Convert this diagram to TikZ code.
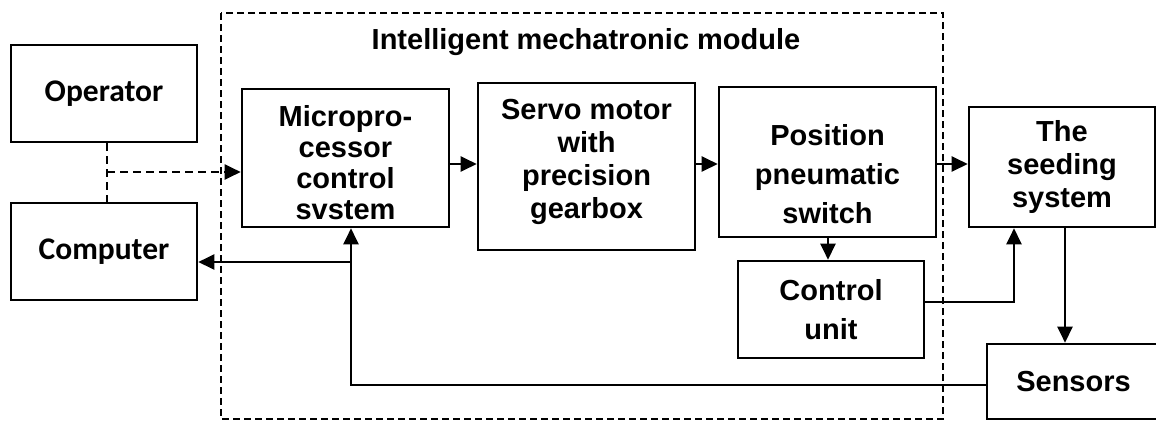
\documentclass[tikz,border=0pt]{standalone}
\usepackage{fontspec}
\setmainfont{Liberation Sans}
\newfontfamily\calib{Carlito}
\usetikzlibrary{arrows.meta,calc}
\begin{document}
\begin{tikzpicture}[x=1pt,y=-1pt,
  box/.style={draw, line width=2.6pt, align=center, inner sep=0pt},
  fa/.style={font=\bfseries\fontsize{29}{31}\selectfont},
  fs/.style={font=\bfseries\fontsize{29}{33}\selectfont},
  fb/.style={font=\bfseries\fontsize{29}{39}\selectfont},
  fd/.style={font=\calib\bfseries\fontsize{31.5}{36}\selectfont},
  tip/.style={-{Triangle[length=16pt,width=15pt]}},
  arr/.style={line width=2.3pt, tip},
  dsh/.style={line width=2pt, dash pattern=on 8pt off 5pt},
  frame/.style={line width=1.5pt, dash pattern=on 7pt off 4pt}]
\useasboundingbox (0,0) rectangle (1156,421);
\draw[frame] (221,13) rectangle (943,419);
\node[font=\bfseries\fontsize{29}{34}\selectfont] (title) at (586,42) {Intelligent mechatronic module};
\node[box, fd, minimum width=186pt, minimum height=97pt] (oper) at (104,93.5) {Operator};
\node[box, fd, minimum width=186pt, minimum height=97pt] (comp) at (104,251.5) {Computer};
\node[box, minimum width=207pt, minimum height=138pt,
  label={[fa, align=center, yshift=-5pt]center:{Micropro-\\cessor\\control\\svstem}}] (micro) at (345.5,158) {};
\node[box, fs, minimum width=217pt, minimum height=167pt,
  label={[fs, align=center, yshift=5pt]center:{Servo motor\\with\\precision\\gearbox}}] (servo) at (586.5,166.5) {};
\node[box, minimum width=217pt, minimum height=150pt,
  label={[fb, align=center, yshift=-12pt]center:{Position\\pneumatic\\switch}}] (pos) at (827.5,162) {};
\node[box, fb, minimum width=186pt, minimum height=97pt] (ctrl) at (831,309.5) {Control\\unit};
\node[box, fs, minimum width=186pt, minimum height=120pt] (seed) at (1062,167) {The\\seeding\\system};
\node[box, fs, minimum width=173pt, minimum height=75pt] (sens) at (1073.5,381.5) {Sensors};
% connectors
\draw[arr] (micro.east |- 0,164) -- (servo.west |- 0,164);
\draw[arr] (servo.east |- 0,164) -- (pos.west |- 0,164);
\draw[arr] (pos.east |- 0,164) -- (seed.west |- 0,164);
\draw[arr] (pos.south -| 828,0) -- (ctrl.north -| 828,0);
\draw[arr] (ctrl.east |- 0,302) -| (seed.south -| 1014,0);
\draw[arr] (seed.south -| 1065,0) -- (sens.north -| 1065,0);
\draw[arr] (sens.west |- 0,385) -| (micro.south -| 351,0);
\coordinate (j) at (351,262);
\draw[arr] (j) -- (comp.east |- j);
\draw[dsh] (oper.south -| 107,0) -- (comp.north -| 107,0);
\coordinate (k) at (107,172);
\draw[dsh, tip] (k) -- (micro.west |- k);
\end{tikzpicture}
\end{document}
